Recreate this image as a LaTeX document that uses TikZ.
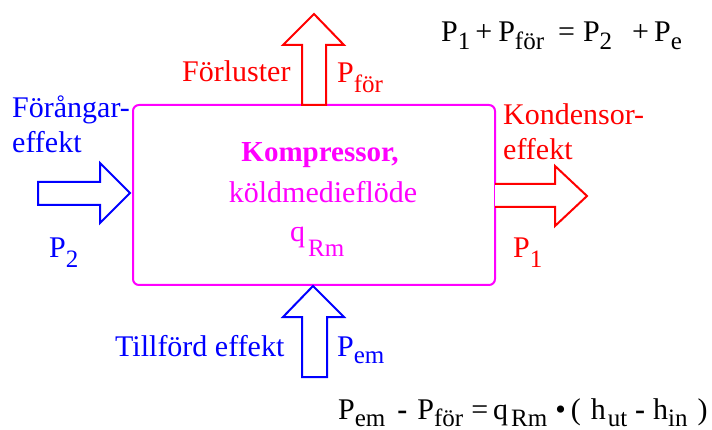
\documentclass[tikz,border=0pt]{standalone}
\usepackage{fontspec}
\setmainfont{Liberation Serif}
\newfontfamily\tms{Liberation Serif}
\definecolor{mag}{RGB}{255,0,255}
\definecolor{rd}{RGB}{255,0,0}
\definecolor{bl}{RGB}{0,0,255}
\newcommand\sbx[2][8]{\raisebox{-#1pt}{\fontsize{25}{25}\selectfont #2}}
\newcommand\hs[1]{\hspace{#1pt}}
\begin{document}
\begin{tikzpicture}[x=1pt,y=-1pt,
  lbl/.style={inner sep=0pt,anchor=base west,font=\tms\fontsize{30}{32}\selectfont},
  fatarrow/.style={line width=2pt,line join=miter,fill=white}]
\useasboundingbox (0,0) rectangle (712,430);
% box
\node[draw=mag,line width=2pt,rounded corners=6pt,minimum width=362pt,minimum height=180pt,inner sep=0pt] (box) at (314,195) {};
% left blue arrow (Förångareffekt)
\coordinate (lt) at (130,193);
\draw[fatarrow,draw=bl] (38,182) -- (100,182) -- (100,163) -- (lt) -- (100,223) -- (100,205) -- (38,205) -- cycle;
% right red arrow
\coordinate (rt) at (587,196);
\draw[fatarrow,draw=rd] (495,184) -- (555,184) -- (555,166) -- (rt) -- (555,226) -- (555,207) -- (495,207);
% top red arrow
\coordinate (tt) at (314,14);
\draw[fatarrow,draw=rd] (302,105) -- (302,45) -- (283,45) -- (tt) -- (344,45) -- (326,45) -- (326,105) -- cycle;
% bottom blue arrow
\coordinate (bt) at (313,286);
\draw[fatarrow,draw=bl] (302,377) -- (302,317) -- (283,317) -- (bt) -- (344,317) -- (327,317) -- (327,377) -- cycle;
% labels
\node[lbl,text=rd] (forl) at (182,82) {Förluster};
\node[lbl,text=rd] (pfor) at (337,83) {P\sbx[10]{för}};
\node[lbl,text=bl] (fora1) at (12,118) {Förångar-};
\node[lbl,text=bl] (fora2) at (12,153) {effekt};
\node[lbl,text=bl] (p2) at (49,258) {P\sbx[10]{2}};
\node[lbl,text=rd] (kond1) at (503,125) {Kondensor-};
\node[lbl,text=rd] (kond2) at (503,160) {effekt};
\node[lbl,text=rd] (p1) at (513,258) {P\sbx[10]{1}};
\node[lbl,text=mag,anchor=base,font=\tms\fontsize{29}{32}\selectfont\bfseries] (komp) at (320,162) {Kompressor,};
\node[lbl,text=mag,anchor=base] (kold) at (323,203) {köldmedieflöde};
\node[lbl,text=mag] (qrm) at (290,242) {q\kern3pt\sbx[15]{Rm}};
\node[lbl,text=bl] (till) at (115,356) {Tillförd effekt};
\node[lbl,text=bl] (pem) at (337,356) {P\sbx[7]{em}};
\node[lbl] (eq1) at (441,42) {P\sbx{1}\hs{5}+\hs{6}P\sbx{för}\hs{14}=\hs{8}P\sbx{2}\hs{20}+\hs{5}P\sbx{e}};
\node[lbl] (eq2) at (338,419) {P\sbx[7]{em}\hs{12}\textbf{-}\hs{10}P\sbx[7]{för}\hs{8}=\hs{5}q\kern3pt\sbx[7]{Rm}\hs{8}•\hs{5}(\hs{10}h\kern2pt\sbx[7]{ut}\hs{8}\textbf{-}\hs{8}h\sbx[7]{in}\hs{10})};
\end{tikzpicture}
\end{document}
